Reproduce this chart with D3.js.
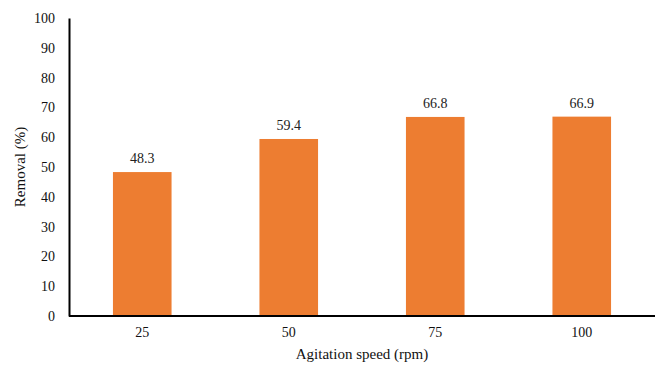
<!DOCTYPE html>
<html>
<head>
<meta charset="utf-8">
<script src="https://cdn.jsdelivr.net/npm/d3@7/dist/d3.min.js"></script>
<style>
  html, body { margin: 0; padding: 0; background: #fff; }
  svg, svg text { font-family: "Liberation Serif", "Times New Roman", serif !important; }
  svg { display: block; }
</style>
</head>
<body>
<svg id="chart" width="658" height="365"></svg>
<script>
// Removal efficiency at each agitation speed
const categories = ["25", "50", "75", "100"];
const removal = [48.3, 59.4, 66.8, 66.9];
const yTicks = [0, 10, 20, 30, 40, 50, 60, 70, 80, 90, 100];

const svg = d3.select("#chart");
const plotLeft = 69, plotRight = 655, plotTop = 18, plotBottom = 316;

const x = d3.scaleBand()
  .domain(categories)
  .range([plotLeft, plotRight])
  .paddingInner(0.6)
  .paddingOuter(0.3);

const y = d3.scaleLinear().domain([0, 100]).range([plotBottom, plotTop]);

// Bars
svg.append("g").selectAll("rect")
  .data(removal)
  .join("rect")
  .attr("x", (d, i) => x(categories[i]))
  .attr("y", d => y(d))
  .attr("width", x.bandwidth())
  .attr("height", d => y(0) - y(d))
  .attr("fill", "#ED7D31");

// Value labels
svg.append("g").selectAll("text")
  .data(removal)
  .join("text")
  .attr("x", (d, i) => x(categories[i]) + x.bandwidth() / 2)
  .attr("y", d => y(d) - 9)
  .attr("text-anchor", "middle")
  .attr("font-size", 14)
  .attr("fill", "#222")
  .text(d => d.toFixed(1));

// Y axis
const yAxis = svg.append("g")
  .attr("transform", `translate(${plotLeft},0)`)
  .call(d3.axisLeft(y).tickValues(yTicks).tickSize(0).tickPadding(14));
yAxis.select(".domain").attr("stroke", "#000").attr("stroke-width", 2);
yAxis.selectAll("text").attr("font-size", 14).attr("fill", "#111");

// X axis
const xAxis = svg.append("g")
  .attr("transform", `translate(0,${plotBottom})`)
  .call(d3.axisBottom(x).tickSize(0).tickPadding(11));
xAxis.select(".domain").attr("stroke", "#000").attr("stroke-width", 2)
  .attr("d", `M${plotLeft},0H${plotRight}`);
xAxis.selectAll("text").attr("font-size", 14).attr("fill", "#111");

// Axis titles
svg.append("text")
  .attr("x", (plotLeft + plotRight) / 2)
  .attr("y", 359)
  .attr("text-anchor", "middle")
  .attr("font-size", 15)
  .attr("fill", "#111")
  .text("Agitation speed (rpm)");

svg.append("text")
  .attr("transform", `translate(25,${(plotTop + plotBottom) / 2}) rotate(-90)`)
  .attr("text-anchor", "middle")
  .attr("font-size", 15)
  .attr("fill", "#111")
  .text("Removal (%)");
</script>
</body>
</html>
